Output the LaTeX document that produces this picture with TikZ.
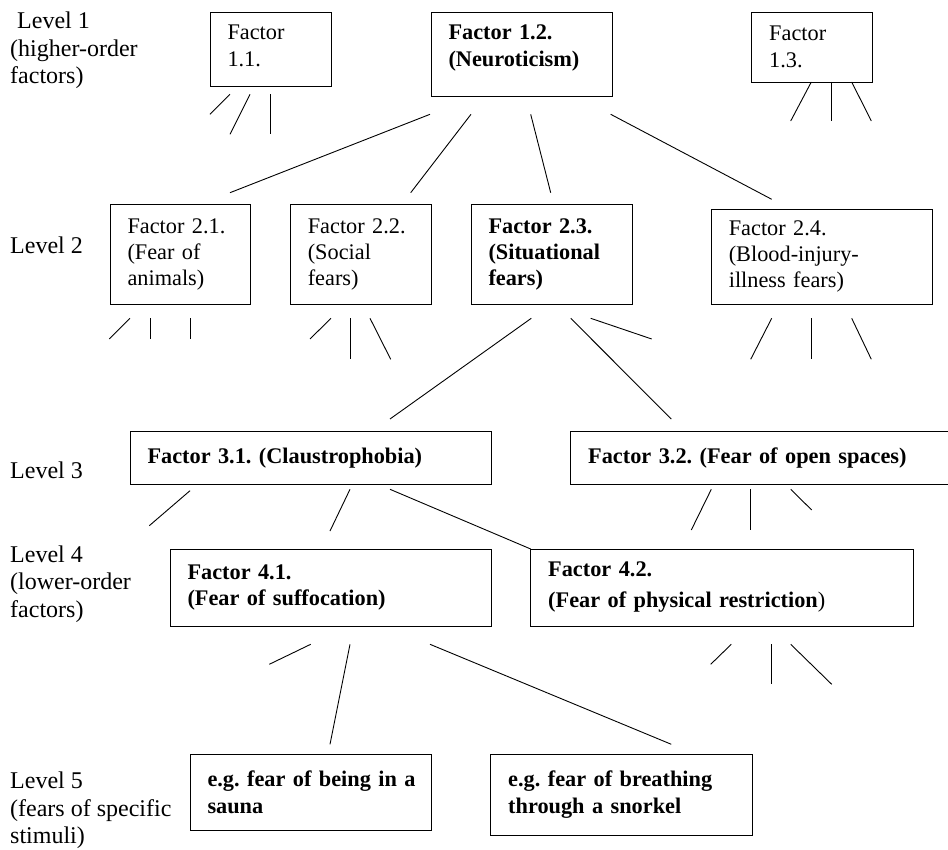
\documentclass[tikz,border=0pt]{standalone}
\usepackage{fontspec}
\setmainfont{Liberation Serif}
\frenchspacing

\begin{document}
\begin{tikzpicture}[x=1pt,y=-1pt,
        factor/.style={draw,line width=0.9pt,rectangle,anchor=north west,outer sep=0pt,
            inner xsep=17.5pt,inner ysep=0pt,align=left,font=\fontsize{22.3}{26.3}\selectfont},
        level/.style={anchor=north west,inner sep=0pt,align=left,font=\fontsize{24}{27.6}\selectfont},
        link/.style={line width=0.9pt}]
        \useasboundingbox (0,0) rectangle (948,850);

        %%% Level labels
        \node[level] (lev1) at (10,11.6) {\hspace*{7pt}Level 1\\(higher-order\\factors)};
        \node[level] (lev2) at (10,236.9) {Level 2};
        \node[level] (lev3) at (10,461.9) {Level 3};
        \node[level] (lev4) at (10,545.3) {Level 4\\(lower-order\\factors)};
        \node[level] (lev5) at (10,771.9) {Level 5\\(fears of specific\\stimuli)};

        %%% Level 1
        \begin{scope}
            % Factors
            \node[factor,minimum width=121pt,minimum height=74pt,text width=86pt] (fac11) at (210,12) {Factor\\1.1.\\[-19.9pt]\mbox{}};
            \node[factor,minimum width=181pt,minimum height=84pt,text width=146pt] (fac12) at (431,12) {\bfseries Factor 1.2.\\(Neuroticism)\\[-9.8pt]\mbox{}};
            \node[factor,minimum width=120.3pt,minimum height=70pt,text width=85.3pt] (fac13) at (751.7,12) {Factor\\1.3.};

            % Invisible nodes
            \coordinate (up11a) at (230,94.3);   \coordinate (dn11a) at (210,114.3);
            \coordinate (up11b) at (250,94.3);   \coordinate (dn11b) at (230,134.3);
            \coordinate (up11c) at (270,94.3);   \coordinate (dn11c) at (270,134.3);
            \coordinate (up12to21) at (430,114.3);   \coordinate (dn12to21) at (230,192.7);
            \coordinate (up12to22) at (471,114.3);   \coordinate (dn12to22) at (410.7,192.7);
            \coordinate (up12to23) at (530.7,114.3); \coordinate (dn12to23) at (550.7,192.7);
            \coordinate (up12to24) at (610.7,114.3); \coordinate (dn12to24) at (771.7,199.3);
            \coordinate (up13a) at (811.3,82);   \coordinate (dn13a) at (790.7,121);
            \coordinate (up13b) at (831.3,82);   \coordinate (dn13b) at (831.3,121);
            \coordinate (up13c) at (851.7,82);   \coordinate (dn13c) at (871.3,121);

            % Links
            \draw[link] (up11a) -- (dn11a);
            \draw[link] (up11b) -- (dn11b);
            \draw[link] (up11c) -- (dn11c);
            \draw[link] (up12to21) -- (dn12to21);
            \draw[link] (up12to22) -- (dn12to22);
            \draw[link] (up12to23) -- (dn12to23);
            \draw[link] (up12to24) -- (dn12to24);
            \draw[link] (up13a) -- (dn13a);
            \draw[link] (up13b) -- (dn13b);
            \draw[link] (up13c) -- (dn13c);
        \end{scope}

        %%% Level 2
        \begin{scope}
            % Factors
            \node[factor,minimum width=140.7pt,minimum height=99.3pt,text width=105.7pt] (fac21) at (110,204.7) {Factor 2.1.\\(Fear of\\animals)};
            \node[factor,minimum width=141pt,minimum height=99.3pt,text width=106pt] (fac22) at (290.3,204.7) {Factor 2.2.\\(Social\\fears)};
            \node[factor,minimum width=161pt,minimum height=99.3pt,text width=126pt] (fac23) at (471,204.7) {\bfseries Factor 2.3.\\(Situational\\fears)};
            \node[factor,minimum width=221pt,minimum height=95pt,text width=186pt] (fac24) at (711.3,209) {Factor 2.4.\\(Blood-injury-\\illness fears)};

            % Invisible nodes
            \coordinate (up21a) at (130,318.3);  \coordinate (dn21a) at (109.3,339);
            \coordinate (up21b) at (150,318.3);  \coordinate (dn21b) at (150,339);
            \coordinate (up21c) at (190,318.3);  \coordinate (dn21c) at (190,339);
            \coordinate (up22a) at (331,318.3);  \coordinate (dn22a) at (310,339);
            \coordinate (up22b) at (350,318.3);  \coordinate (dn22b) at (350,359.3);
            \coordinate (up22c) at (370,318.3);  \coordinate (dn22c) at (390.7,359.3);
            \coordinate (up23to31) at (531.3,318.3); \coordinate (dn23to31) at (390,419);
            \coordinate (up23to32) at (570.7,318.3); \coordinate (dn23to32) at (671.3,419);
            \coordinate (up23a) at (590.7,318.3);  \coordinate (dn23a) at (651.7,339);
            \coordinate (up24a) at (771.7,318.3);  \coordinate (dn24a) at (750.7,359.3);
            \coordinate (up24b) at (811.7,318.3);  \coordinate (dn24b) at (811.7,359.3);
            \coordinate (up24c) at (851.7,318.3);  \coordinate (dn24c) at (871.3,359.3);

            % Links
            \draw[link] (up21a) -- (dn21a);
            \draw[link] (up21b) -- (dn21b);
            \draw[link] (up21c) -- (dn21c);
            \draw[link] (up22a) -- (dn22a);
            \draw[link] (up22b) -- (dn22b);
            \draw[link] (up22c) -- (dn22c);
            \draw[link] (up23to31) -- (dn23to31);
            \draw[link] (up23to32) -- (dn23to32);
            \draw[link] (up23a) -- (dn23a);
            \draw[link] (up24a) -- (dn24a);
            \draw[link] (up24b) -- (dn24b);
            \draw[link] (up24c) -- (dn24c);
        \end{scope}

        %%% Level 3
        \begin{scope}
            % Factors
            \node[factor,minimum width=361.3pt,minimum height=53.3pt,text width=326.3pt] (fac31) at (130,431) {\bfseries Factor 3.1. (Claustrophobia)};
            \node[factor,minimum width=391.3pt,minimum height=53pt,text width=356.3pt] (fac32) at (570.7,431.3) {\bfseries Factor 3.2. (Fear of open spaces)};

            % Level 4 factors
            \node[factor,minimum width=321.3pt,minimum height=77pt,text width=286.3pt] (fac41) at (170,549) {\bfseries Factor 4.1.\\(Fear of suffocation)};
            \node[factor,minimum width=382.3pt,minimum height=77pt,text width=347.3pt] (fac42) at (530.7,549) {\textbf{Factor 4.2.}\\[4.7pt]\textbf{(Fear of physical restriction})};

            % Invisible nodes
            \coordinate (up31a) at (190,490.7);  \coordinate (dn31a) at (149.3,525.7);
            \coordinate (up31to41) at (350,489.3); \coordinate (dn31to41) at (330,531);
            \coordinate (up31to42) at (390,489.3);
            \coordinate (up32a) at (711.3,489.3);  \coordinate (dn32a) at (691.3,530);
            \coordinate (up32b) at (750.7,489.3);  \coordinate (dn32b) at (750.7,530);
            \coordinate (up32c) at (790.7,489.3);  \coordinate (dn32c) at (811.7,510);

            % Links
            \draw[link] (up31a) -- (dn31a);
            \draw[link] (up31to41) -- (dn31to41);
            \draw[link] (up31to42) -- (fac42.north west);
            \draw[link] (up32a) -- (dn32a);
            \draw[link] (up32b) -- (dn32b);
            \draw[link] (up32c) -- (dn32c);
        \end{scope}

        %%% Level 5
        \begin{scope}
            % Examples
            \node[factor,minimum width=241.7pt,minimum height=75.7pt,text width=206.7pt] (ex51) at (190,754.3) {\bfseries \mbox{e.g. fear of being in a}\\sauna};
            \node[factor,minimum width=261.6pt,minimum height=80.7pt,text width=226.6pt] (ex52) at (490.7,754.3) {\bfseries e.g. fear of breathing\\through a snorkel};

            % Invisible nodes
            \coordinate (up41a) at (310.7,644.3);  \coordinate (dn41a) at (269.3,664.3);
            \coordinate (up41to51) at (350,644.3); \coordinate (dn41to51) at (330,744.3);
            \coordinate (up41to52) at (430,644.3); \coordinate (dn41to52) at (671.3,744.3);
            \coordinate (up42a) at (731.3,644.3);  \coordinate (dn42a) at (710.7,664.3);
            \coordinate (up42b) at (771.7,644.3);  \coordinate (dn42b) at (771.7,684.3);
            \coordinate (up42c) at (790.7,644.3);  \coordinate (dn42c) at (831.7,684.3);

            % Links
            \draw[link] (up41a) -- (dn41a);
            \draw[link] (up41to51) -- (dn41to51);
            \draw[link] (up41to52) -- (dn41to52);
            \draw[link] (up42a) -- (dn42a);
            \draw[link] (up42b) -- (dn42b);
            \draw[link] (up42c) -- (dn42c);
        \end{scope}
    \end{tikzpicture}
\end{document}
